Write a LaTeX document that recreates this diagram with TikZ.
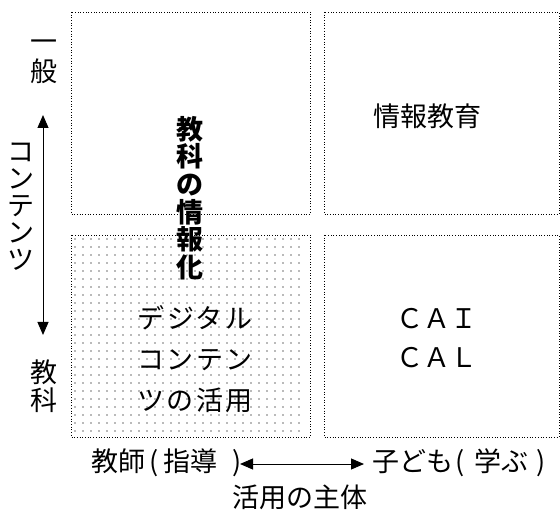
\documentclass[tikz,border=0pt]{standalone}
\usepackage{fontspec}
\setmainfont{Noto Sans CJK JP}
\usetikzlibrary{arrows.meta}
\tikzset{
  quad/.style={draw, dotted, line width=0.7pt},
  lbl/.style={inner sep=0pt, align=center, font=\fontsize{27}{28}\selectfont},
  axis/.style={line width=1pt, {Triangle[length=13pt,width=11pt]}-{Triangle[length=13pt,width=11pt]}},
}
\begin{document}
\begin{tikzpicture}[x=1pt,y=-1pt]
\useasboundingbox (0,0) rectangle (560,513);
% dot pattern in bottom-left quadrant
\foreach \i in {0,...,28}{
  \foreach \j in {0,...,24}{
    \fill[black!55] (75+\i*8, 239+\j*8) circle (0.9pt);
  }
}
\draw[quad] (71,12) rectangle (310,214);
\draw[quad] (324,12) rectangle (559,214);
\draw[quad] (71,235) rectangle (310,437);
\draw[quad] (324,235) rectangle (559,437);
% texts
\node[lbl, font=\fontsize{27}{30}\selectfont] (ippan) at (44,62) {一\\般};
\node[lbl] (kyoka) at (44,386) {教\\科};
\node[lbl, font=\fontsize{27}{27}\selectfont] (content) at (21,207) {コ\\ン\\テ\\ン\\ツ};
\node[lbl, font=\fontsize{27}{27.6}\selectfont\bfseries] (joho) at (190,198) {教\\科\\の\\情\\報\\化};
\node[lbl, font=\fontsize{27}{41}\selectfont\addfontfeature{LetterSpace=9}] (digital) at (195,359) {デジタル\\コンテン\\ツの活用};
\node[lbl] (edu) at (427,116) {情報教育};
\node[lbl, font=\fontsize{27}{39}\selectfont] (cai) at (437,338) {ＣＡＩ\\ＣＡＬ};
\node[lbl, anchor=west] (teacher) at (91,463) {教師\hspace{4pt}(\hspace{5pt}指導\hspace{15pt})};
\node[lbl, anchor=west] (child) at (372,463) {子ども\hspace{2pt}(\hspace{10pt}学ぶ\hspace{8pt})};
\node[lbl] (subject) at (300,497) {活用の主体};
\coordinate (vt) at (43,115);
\coordinate (vb) at (43,335);
\coordinate (hl) at (240,464);
\coordinate (hr) at (364,464);
\draw[axis] (vt) -- (vb);
\draw[axis] (hl) -- (hr);
\end{tikzpicture}
\end{document}
